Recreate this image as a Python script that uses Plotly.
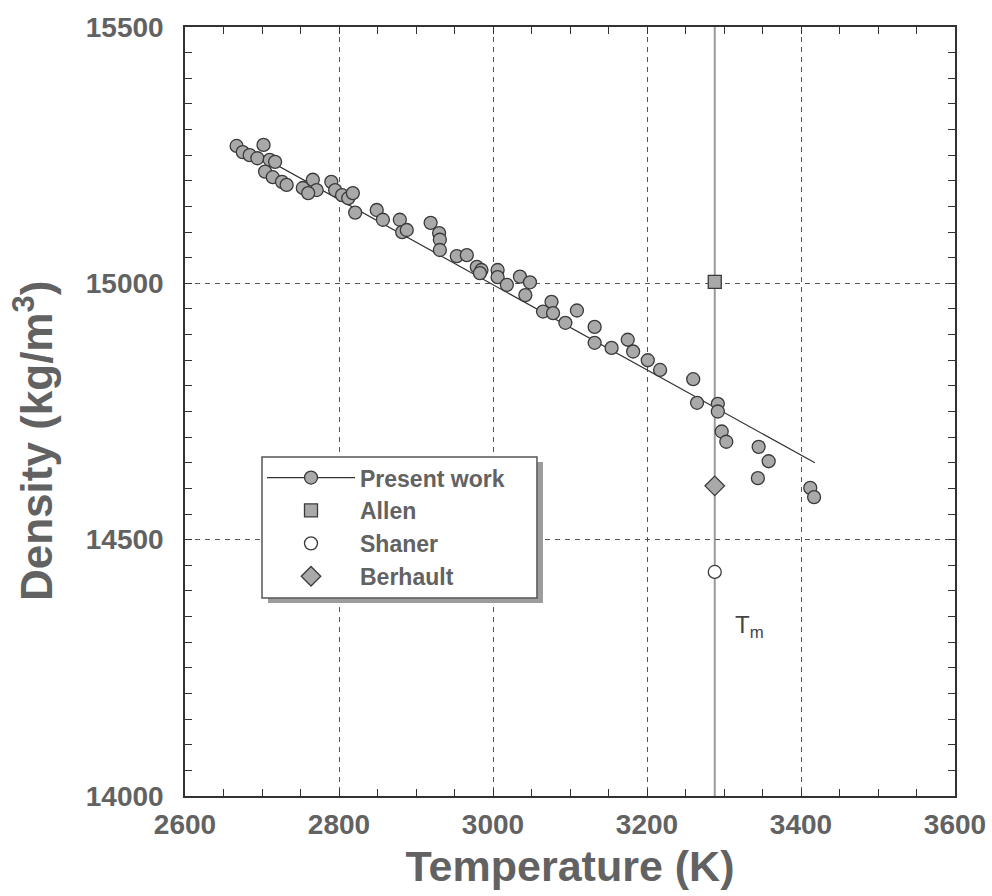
import plotly.graph_objects as go

# ---- data ----
temperature_K = [2667, 2702, 2675, 2684, 2694, 2710, 2717, 2704, 2714, 2726, 2732,
                 2753, 2766, 2771, 2760, 2790, 2795, 2804, 2812, 2818, 2821, 2849,
                 2857, 2879, 2882, 2888, 2919, 2930, 2931, 2931, 2953, 2966, 2979,
                 2985, 2983, 3006, 3006, 3018, 3035, 3048, 3042, 3076, 3065, 3078,
                 3109, 3094, 3132, 3132, 3154, 3175, 3182, 3201, 3217, 3260, 3265,
                 3292, 3292, 3297, 3303, 3345, 3358, 3344, 3412, 3417]
density_kgm3 = [15268, 15270, 15256, 15250, 15244, 15241, 15237, 15218, 15207, 15198, 15192,
                15186, 15202, 15182, 15176, 15198, 15182, 15172, 15166, 15176, 15138, 15143,
                15124, 15124, 15100, 15104, 15118, 15098, 15085, 15065, 15053, 15055, 15032,
                15026, 15020, 15026, 15012, 14997, 15013, 15002, 14977, 14964, 14945, 14942,
                14947, 14923, 14915, 14884, 14874, 14890, 14867, 14850, 14831, 14813, 14767,
                14765, 14750, 14711, 14691, 14681, 14653, 14620, 14601, 14583]

fit_T = [2667, 3418]
fit_rho = [15274, 14650]

Tm = 3288
allen_rho = [15003]
shaner_rho = [14437]
berhault_rho = [14605]

x_ticks = [2600, 2800, 3000, 3200, 3400, 3600]
y_ticks = [14000, 14500, 15000, 15500]

# ---- styling ----
FONT = "Liberation Sans, Arial, sans-serif"
TXT = "#626262"
MK_FILL = "#a9a9a9"
MK_LINE = "#3a3a3a"

fig = go.Figure()

fig.add_trace(go.Scatter(x=fit_T, y=fit_rho, mode="lines",
                         line=dict(color="#333333", width=1.2),
                         showlegend=False, hoverinfo="skip"))
fig.add_trace(go.Scatter(x=temperature_K, y=density_kgm3, mode="markers",
                         marker=dict(symbol="circle", size=13, color=MK_FILL,
                                     line=dict(color=MK_LINE, width=1.3)),
                         showlegend=False))
# legend entry for present work (line + marker)
fig.add_trace(go.Scatter(x=[None], y=[None], mode="lines+markers", name="Present work",
                         line=dict(color="#333333", width=1.2),
                         marker=dict(symbol="circle", size=13, color=MK_FILL,
                                     line=dict(color=MK_LINE, width=1.3))))
fig.add_trace(go.Scatter(x=[Tm], y=allen_rho, mode="markers", name="Allen",
                         marker=dict(symbol="square", size=13, color=MK_FILL,
                                     line=dict(color=MK_LINE, width=1.3))))
fig.add_trace(go.Scatter(x=[Tm], y=shaner_rho, mode="markers", name="Shaner",
                         marker=dict(symbol="circle", size=13, color="white",
                                     line=dict(color=MK_LINE, width=1.3))))
fig.add_trace(go.Scatter(x=[Tm], y=berhault_rho, mode="markers", name="Berhault",
                         marker=dict(symbol="diamond", size=15, color=MK_FILL,
                                     line=dict(color=MK_LINE, width=1.3))))

# melting temperature line
fig.add_shape(type="line", x0=Tm, x1=Tm, y0=0, y1=1, xref="x", yref="paper",
              line=dict(color="#9a9a9a", width=2), layer="below")

fig.add_annotation(x=Tm, y=14330, xref="x", yref="y", text="T<sub>m</sub>",
                   showarrow=False, xanchor="left", xshift=18,
                   font=dict(family=FONT, size=24, color="#444444"))

# y-axis title (placed as in the reference, slightly below the axis middle)
fig.add_annotation(x=0, y=0.4616, xref="paper", yref="paper", xanchor="center",
                   yanchor="middle", xshift=-152, textangle=-90, showarrow=False,
                   text="Density (kg/m<sup>3</sup>)",
                   font=dict(family=FONT, size=44, color=TXT, weight="bold"))

# legend box with drop shadow
fig.add_shape(type="rect", xref="paper", yref="paper",
              x0=0.1078, x1=0.4649, y0=0.2510, y1=0.4343,
              fillcolor="#9c9c9c", line=dict(width=0), layer="above")
fig.add_shape(type="rect", xref="paper", yref="paper",
              x0=0.1000, x1=0.4571, y0=0.2575, y1=0.4408,
              fillcolor="white", line=dict(color="#555555", width=1.5), layer="above")

axis_common = dict(
    showline=True, linecolor="#333333", linewidth=1.5, mirror="ticks",
    ticks="inside", ticklen=7, tickwidth=1, tickcolor="#333333",
    showgrid=True, gridcolor="#555555", gridwidth=1, griddash="5px,5px",
    zeroline=False, ticklabeloverflow="allow",
    tickfont=dict(family=FONT, size=28, color=TXT, weight="bold"),
    minor=dict(ticks="inside", ticklen=7, tickwidth=1, tickcolor="#333333",
               dtick=50, showgrid=False),
)

fig.update_xaxes(**axis_common, range=[2600, 3600], tickvals=x_ticks,
                 ticktext=[str(v) for v in x_ticks], ticklabelstandoff=3,
                 title=dict(text="Temperature (K)", standoff=12,
                            font=dict(family=FONT, size=43, color=TXT, weight="bold")))
fig.update_yaxes(**axis_common, range=[14000, 15500], tickvals=y_ticks,
                 ticktext=[str(v) for v in y_ticks], ticklabelstandoff=14)

fig.update_layout(
    width=992, height=896,
    margin=dict(l=185, r=37, t=27, b=100, autoexpand=False),
    plot_bgcolor="white", paper_bgcolor="white",
    legend=dict(x=0.1, y=0.442, xanchor="left", yanchor="top",
                bgcolor="rgba(0,0,0,0)", borderwidth=0,
                font=dict(family=FONT, size=23, color=TXT, weight="bold"),
                itemwidth=88, tracegroupgap=0),
    showlegend=True,
)

# remove the default 8px page margin so the figure fills the window exactly
fig.write_html("out.html", config={"displayModeBar": False},
               post_script="document.body.style.margin='0';document.body.style.overflow='hidden';")
